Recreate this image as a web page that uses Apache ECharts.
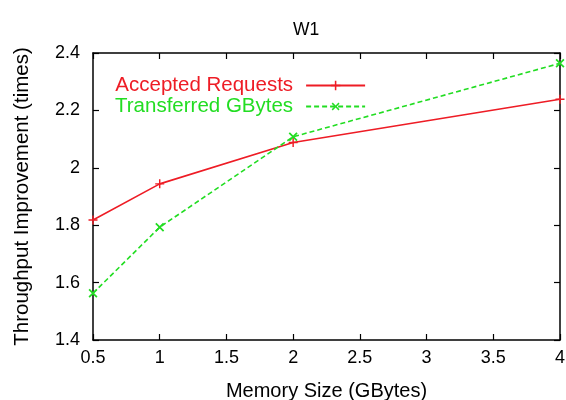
<!DOCTYPE html>
<html><head><meta charset="utf-8">
<script src="https://cdn.jsdelivr.net/npm/echarts@6/dist/echarts.min.js"></script>
<style>html,body{margin:0;padding:0;background:#fff}#c{width:566px;height:400px}</style>
</head><body><div id="c"></div>
<script>
const memSize = [0.5, 1, 2, 4];
const acceptedRequests = [1.818, 1.944, 2.088, 2.239];
const transferredGBytes = [1.563, 1.793, 2.108, 2.364];
const seriesNames = ['Accepted Requests', 'Transferred GBytes'];
const RED = '#ee1c25', GREEN = '#22dd22';
const FONT = 'Liberation Sans';
const plus = 'path://M4.2,0H5.8V4.2H10V5.8H5.8V10H4.2V5.8H0V4.2H4.2Z';

const chart = echarts.init(document.getElementById('c'), null, {renderer: 'canvas'});
const axBase = {
  type: 'value',
  axisLine: {show: true, lineStyle: {color: '#000', width: 1.5}},
  axisTick: {show: true, inside: true, length: 6, lineStyle: {color: '#000', width: 1.2}},
  splitLine: {show: false}
};
chart.setOption({
  animation: false,
  textStyle: {fontFamily: FONT},
  title: {text: 'W1', left: 301, top: 16, textAlign: 'center',
    textStyle: {fontFamily: FONT, fontSize: 17.5, fontWeight: 'normal', color: '#000'}},
  grid: {left: 93, right: 6, top: 53, bottom: 60, containLabel: false, outerBoundsMode: 'none'},
  legend: {
    left: 110, top: 70, orient: 'vertical', align: 'right', itemGap: 0,
    itemWidth: 59, itemHeight: 12,
    textStyle: {fontFamily: FONT, fontSize: 20.5, lineHeight: 20, padding: [0, 8, 0, 0]},
    data: [
      {name: seriesNames[0], textStyle: {color: RED}},
      {name: seriesNames[1], textStyle: {color: GREEN}}
    ]
  },
  xAxis: [
    Object.assign({}, axBase, {min: 0.5, max: 4, interval: 0.5, position: 'bottom',
      name: 'Memory Size (GBytes)', nameLocation: 'middle', nameGap: 41,
      nameTextStyle: {fontFamily: FONT, fontSize: 20, color: '#000'},
      axisLabel: {fontFamily: FONT, fontSize: 18, color: '#000', margin: 9}}),
    Object.assign({}, axBase, {min: 0.5, max: 4, interval: 0.5, position: 'top',
      axisLabel: {show: false}})
  ],
  yAxis: [
    Object.assign({}, axBase, {min: 1.4, max: 2.4, interval: 0.2, position: 'left',
      name: 'Throughput Improvement (times)', nameLocation: 'middle', nameGap: 60,
      nameTextStyle: {fontFamily: FONT, fontSize: 20.5, color: '#000'},
      axisLabel: {fontFamily: FONT, fontSize: 18, color: '#000', margin: 13,
        formatter: v => String(Math.round(v * 10) / 10)}}),
    Object.assign({}, axBase, {min: 1.4, max: 2.4, interval: 0.2, position: 'right',
      axisLabel: {show: false}})
  ],
  series: [
    {name: seriesNames[0], type: 'line', data: memSize.map((x, i) => [x, acceptedRequests[i]]),
      symbol: plus, symbolSize: 9, showAllSymbol: true,
      lineStyle: {color: RED, width: 1.6}, itemStyle: {color: RED}},
    {name: seriesNames[1], type: 'line', data: memSize.map((x, i) => [x, transferredGBytes[i]]),
      symbol: plus, symbolRotate: 45, symbolSize: 11, showAllSymbol: true,
      lineStyle: {color: GREEN, width: 1.6, type: [5, 3]}, itemStyle: {color: GREEN}}
  ]
});
</script></body></html>
